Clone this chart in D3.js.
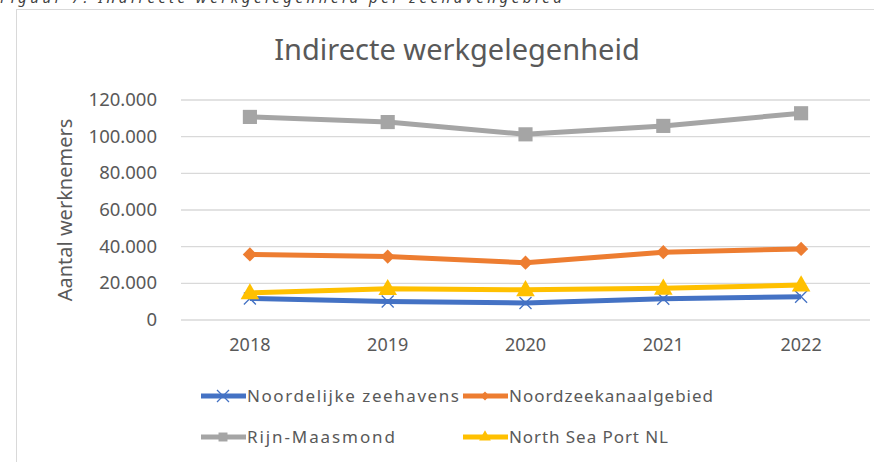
<!DOCTYPE html>
<html>
<head>
<meta charset="utf-8">
<script src="https://cdn.jsdelivr.net/npm/d3@7"></script>
<style>
  body { margin: 0; background: #fff; }
  svg { display: block; font-family: "Noto Sans", sans-serif; }
</style>
</head>
<body>
<div id="chart"></div>
<script>
// Data
const years = ["2018", "2019", "2020", "2021", "2022"];
const noordelijke = [11500, 9800, 9000, 11300, 12400];
const noordzee = [35500, 34300, 31000, 36700, 38500];
const rijnMaas = [110500, 107700, 101000, 105600, 112500];
const northSea = [14500, 16800, 16200, 17000, 18800];
const yTicks = [0, 20000, 40000, 60000, 80000, 100000, 120000];

const series = [
    { name: "Noordelijke zeehavens", values: noordelijke, color: "#4472C4", marker: "x" },
    { name: "Noordzeekanaalgebied", values: noordzee, color: "#ED7D31", marker: "diamond" },
    { name: "Rijn-Maasmond", values: rijnMaas, color: "#A5A5A5", marker: "square" },
    { name: "North Sea Port NL", values: northSea, color: "#FFC000", marker: "triangle" },
];

const width = 874;
const height = 462;
const plot = { left: 181, right: 870, top: 99.5, bottom: 319.5 };

const svg = d3.select("#chart")
    .append("svg")
    .attr("width", width)
    .attr("height", height);

// caption above the chart box (cut off at the top, as in the source)
svg.append("text")
    .attr("x", 0)
    .attr("y", 3)
    .attr("fill", "#404040")
    .attr("font-style", "italic")
    .attr("font-size", 15)
    .attr("textLength", 562)
    .text("Figuur 7: Indirecte werkgelegenheid per zeehavengebied");

// chart frame
svg.append("rect")
    .attr("x", 16.5)
    .attr("y", 9.5)
    .attr("width", 900)
    .attr("height", 500)
    .attr("fill", "#fff")
    .attr("stroke", "#d9d9d9");

// Title
svg.append("text")
    .attr("x", 457)
    .attr("y", 60)
    .attr("text-anchor", "middle")
    .attr("fill", "#595959")
    .attr("font-size", 29)
    .text("Indirecte werkgelegenheid");

// Scales
const x = d3.scaleBand()
    .domain(years)
    .range([plot.left, plot.right]);

const y = d3.scaleLinear()
    .domain([0, 120000])
    .range([plot.bottom, plot.top]);

const nl = d3.formatLocale({ decimal: ",", thousands: ".", grouping: [3], currency: ["€", ""] });
const fmt = nl.format(",");

// gridlines + y labels
const yAxis = svg.append("g")
    .attr("transform", `translate(${plot.left},0)`)
    .call(d3.axisLeft(y).tickValues(yTicks).tickFormat(fmt).tickSize(-(plot.right - plot.left)).tickPadding(24));
yAxis.select(".domain").remove();
yAxis.selectAll(".tick line").attr("stroke", "#d9d9d9").attr("stroke-width", 1.3);
yAxis.selectAll(".tick text")
    .attr("fill", "#595959")
    .attr("font-size", 18.5)
    .attr("font-family", "Noto Sans, sans-serif");

// x labels
const xAxis = svg.append("g")
    .attr("transform", `translate(0,${plot.bottom})`)
    .call(d3.axisBottom(x).tickSize(0).tickPadding(19));
xAxis.select(".domain").remove();
xAxis.selectAll(".tick text")
    .attr("fill", "#595959")
    .attr("font-size", 18)
    .attr("font-family", "Noto Sans, sans-serif");

// y axis title
svg.append("text")
    .attr("transform", `translate(72,210) rotate(-90)`)
    .attr("text-anchor", "middle")
    .attr("fill", "#595959")
    .attr("font-size", 20)
    .text("Aantal werknemers");

const cx = d => x(d) + x.bandwidth() / 2;

const line = d3.line()
    .x((d, i) => cx(years[i]))
    .y(d => y(d));

function drawMarker(g, type, color, px, py) {
    if (type === "x") {
        g.append("path")
            .attr("d", `M${px - 6},${py - 6}L${px + 6},${py + 6}M${px - 6},${py + 6}L${px + 6},${py - 6}`)
            .attr("stroke", color)
            .attr("stroke-width", 1.3)
            .attr("fill", "none");
    } else if (type === "diamond") {
        g.append("path")
            .attr("d", d3.symbol(d3.symbolDiamond2, 130)())
            .attr("transform", `translate(${px},${py})`)
            .attr("fill", color);
    } else if (type === "square") {
        g.append("path")
            .attr("d", d3.symbol(d3.symbolSquare, 200)())
            .attr("transform", `translate(${px},${py})`)
            .attr("fill", color);
    } else {
        g.append("path")
            .attr("d", d3.symbol(d3.symbolTriangle, 150)())
            .attr("transform", `translate(${px},${py + 1})`)
            .attr("fill", color);
    }
}

// Lines and markers
series.forEach(s => {
    const g = svg.append("g");
    g.append("path")
        .datum(s.values)
        .attr("fill", "none")
        .attr("stroke", s.color)
        .attr("stroke-width", 5)
        .attr("stroke-linejoin", "round")
        .attr("d", line);
    s.values.forEach((v, i) => drawMarker(g, s.marker, s.color, cx(years[i]), y(v)));
});

// Legend
const legendPos = [
    { lx: 201, ly: 396, tl: 212 },
    { lx: 463, ly: 396, tl: 204 },
    { lx: 201, ly: 437, tl: 148 },
    { lx: 463, ly: 437, tl: 159 },
];
series.forEach((s, i) => {
    const p = legendPos[i];
    const g = svg.append("g");
    g.append("line")
        .attr("x1", p.lx).attr("x2", p.lx + 45)
        .attr("y1", p.ly).attr("y2", p.ly)
        .attr("stroke", s.color)
        .attr("stroke-width", 5);
    const m = g.append("g");
    if (s.marker === "x") {
        drawMarker(m, "x", s.color, p.lx + 22, p.ly);
    } else if (s.marker === "diamond") {
        m.append("path").attr("d", d3.symbol(d3.symbolDiamond2, 50)())
            .attr("transform", `translate(${p.lx + 22},${p.ly})`).attr("fill", s.color);
    } else if (s.marker === "square") {
        m.append("path").attr("d", d3.symbol(d3.symbolSquare, 80)())
            .attr("transform", `translate(${p.lx + 22},${p.ly})`).attr("fill", s.color);
    } else {
        m.append("path").attr("d", d3.symbol(d3.symbolTriangle, 60)())
            .attr("transform", `translate(${p.lx + 22},${p.ly})`).attr("fill", s.color);
    }
    g.append("text")
        .attr("x", p.lx + 46)
        .attr("y", p.ly + 6)
        .attr("fill", "#595959")
        .attr("font-size", 17)
        .attr("textLength", p.tl)
        .text(s.name);
});
</script>
</body>
</html>
